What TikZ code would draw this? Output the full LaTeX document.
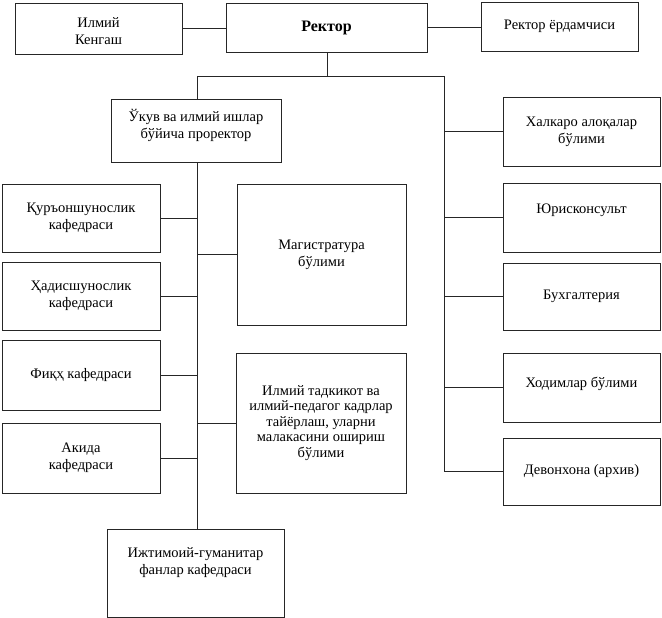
\documentclass[tikz,border=0pt]{standalone}
\usepackage{fontspec}
\setmainfont{Liberation Serif}
\begin{document}
\begin{tikzpicture}[x=1pt,y=-1pt,
  box/.style={draw=black!85,line width=0.9pt,rectangle,inner sep=0pt,align=center,
    font=\fontsize{14.5}{17}\selectfont},
  txt/.style={align=center,inner sep=0pt,font=\fontsize{14.5}{17}\selectfont},
  conn/.style={draw=black!85,line width=0.9pt}]
\useasboundingbox (0,0) rectangle (662,618);
% boxes
\node[box,minimum width=167pt,minimum height=51pt] (ilmiy) at (98.5,28.5) {};
\node[txt] (ilmiytext) at (98.5,31) {Илмий\\Кенгаш};
\node[box,minimum width=201pt,minimum height=49pt,font=\fontsize{16}{18}\selectfont\bfseries] (rektor) at (326.5,27.5) {Ректор};
\node[box,minimum width=157pt,minimum height=49pt] (yordam) at (559.5,26.5) {Ректор ёрдамчиси};
\node[box,minimum width=170pt,minimum height=63pt] (prorektor) at (196,130.5) {};
\node[txt] (prortext) at (196,125.5) {Ўкув ва илмий ишлар\\бўйича проректор};
\node[box,minimum width=158pt,minimum height=68pt] (qur) at (81,218) {Қуръоншунослик\\кафедраси};
\node[box,minimum width=158pt,minimum height=68pt] (hadis) at (81,296) {Ҳадисшунослик\\кафедраси};
\node[box,minimum width=158pt,minimum height=70pt] (fiqh) at (81,375) {Фиқҳ кафедраси};
\node[box,minimum width=158pt,minimum height=70pt] (aqida) at (81,458) {Акида\\кафедраси};
\node[box,minimum width=177pt,minimum height=88pt] (ijt) at (195.5,573) {};
\node[txt] (ijttext) at (195.5,563) {Ижтимоий-гуманитар\\фанлар кафедраси};
\node[box,minimum width=169pt,minimum height=141pt] (magistr) at (321.5,254.5) {Магистратура\\бўлими};
\node[box,minimum width=170pt,minimum height=140pt,font=\fontsize{14.5}{15.5}\selectfont] (tadqiq) at (321,423) {Илмий тадкикот ва\\илмий-педагог кадрлар\\тайёрлаш, уларни\\малакасини ошириш\\бўлими};
\node[box,minimum width=157pt,minimum height=69pt] (xalqaro) at (581.5,131.5) {Халкаро алоқалар\\бўлими};
\node[box,minimum width=157pt,minimum height=69pt] (yurist) at (581.5,217.5) {};
\node[txt] (yuristtext) at (581.5,210) {Юрисконсульт};
\node[box,minimum width=157pt,minimum height=67pt] (buxg) at (581.5,296.5) {Бухгалтерия};
\node[box,minimum width=157pt,minimum height=69pt] (xodim) at (581.5,387.5) {};
\node[txt] (xodimtext) at (581.5,384) {Ходимлар бўлими};
\node[box,minimum width=157pt,minimum height=67pt] (devon) at (581.5,471.5) {Девонхона (архив)};
% junction points
\coordinate (jL) at (197,76);
\coordinate (jC) at (327,76);
\coordinate (jR) at (444,76);
% top connections
\draw[conn] (ilmiy.east) -- (ilmiy.east -| rektor.west);
\draw[conn] (rektor.east) -- (rektor.east -| yordam.west);
\draw[conn] (rektor.south -| jC) -- (jC);
\draw[conn] (jL) -- (jR);
\draw[conn] (jL) -- (jL |- prorektor.north);
% left spine
\draw[conn] (jL |- prorektor.south) -- (jL |- ijt.north);
\foreach \n in {qur,hadis,fiqh,aqida}
  \draw[conn] (\n.east) -- (\n.east -| jL);
\foreach \n in {magistr,tadqiq}
  \draw[conn] (\n.west -| jL) -- (\n.west);
% right spine
\draw[conn] (jR) |- (devon.west);
\foreach \n in {xalqaro,yurist,buxg,xodim}
  \draw[conn] (\n.west -| jR) -- (\n.west);
\end{tikzpicture}
\end{document}
